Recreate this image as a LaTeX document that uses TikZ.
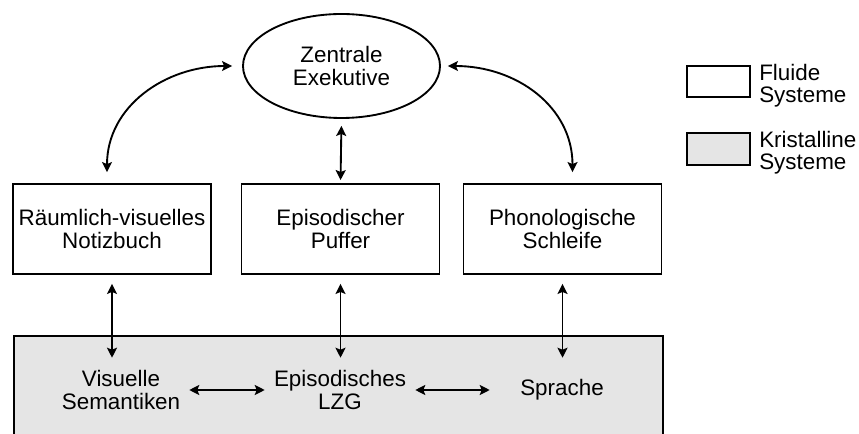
\documentclass[tikz,border=0pt]{standalone}
\usepackage{fontspec}
\setmainfont{Liberation Sans}
\usetikzlibrary{arrows.meta,shapes.geometric}

\begin{document}
\begin{tikzpicture}[x=0.75pt,y=-0.75pt,
  every node/.style={font=\fontsize{16.8}{16.8}\selectfont, align=center, inner sep=0pt},
  fluid/.style={draw, line width=1.4pt, fill=white, minimum width=148.5pt, minimum height=67.5pt},
  crystal/.style={draw, line width=1.4pt, fill=black!10},
  exec/.style={draw, ellipse, line width=1.4pt, fill=white, minimum width=147.75pt, minimum height=78pt},
  ltmitem/.style={minimum height=48pt},
  tip/.tip={Stealth[length=7.5pt,width=7.5pt,inset=1.5pt]},
  link/.style={line width=1.4pt, tip-tip},
  legendtext/.style={anchor=west, align=left},
]
\useasboundingbox (0,0) rectangle (859,434);

% long-term store (crystalline systems)
\node[crystal, anchor=north west, minimum width=486.75pt, minimum height=82.5pt] (ltm) at (13,335) {};

% central executive
\node[exec] (ze) at (341.5,66) {Zentrale\\Exekutive};

% working-memory subsystems
\node[fluid] (rv) at (112,229)   {Räumlich-visuelles\\Notizbuch};
\node[fluid] (ep) at (340.5,229) {Episodischer\\Puffer};
\node[fluid] (pl) at (562.5,229) {Phonologische\\Schleife};

% long-term contents
\node[ltmitem, minimum width=102pt]   (vs)  at (121,390) {Visuelle\\Semantiken};
\node[ltmitem, minimum width=112.5pt] (lzg) at (340,390) {Episodisches\\LZG};
\node[ltmitem, minimum width=108pt]   (sp)  at (562,390) {Sprache};

% executive links
\draw[link, shorten <=7.5pt, shorten >=8.25pt]
  (ze.west) to[out=180,in=90,looseness=1.1] ([xshift=-3.75pt]rv.north);
\draw[link, shorten <=5.25pt, shorten >=8.25pt]
  (ze.east) to[out=0,in=90,looseness=1.1] ([xshift=7.5pt]pl.north);
\draw[link, shorten <=5.25pt, shorten >=2.25pt] (ze.south) -- (ep.north);

% subsystem to long-term store
\draw[link, shorten <=6.75pt] (rv.south) -- (rv.south |- vs.north);
\draw[link, shorten <=6.75pt] (ep.south) -- (ep.south |- lzg.north);
\draw[link, shorten <=6.75pt] (pl.south) -- (pl.south |- sp.north);

% links inside the long-term store
\draw[link] (vs.east) -- (lzg.west);
\draw[link] (lzg.east) -- (sp.west);

% legend
\node[fluid, minimum width=47.25pt, minimum height=23.25pt] (lgf) at (718.5,81.5) {};
\node[crystal, minimum width=47.25pt, minimum height=24pt] (lgc) at (718.5,149) {};
\node[legendtext] (lgft) at (759,86)  {Fluide\\Systeme};
\node[legendtext] (lgct) at (759,153) {Kristalline\\Systeme};
\end{tikzpicture}
\end{document}
